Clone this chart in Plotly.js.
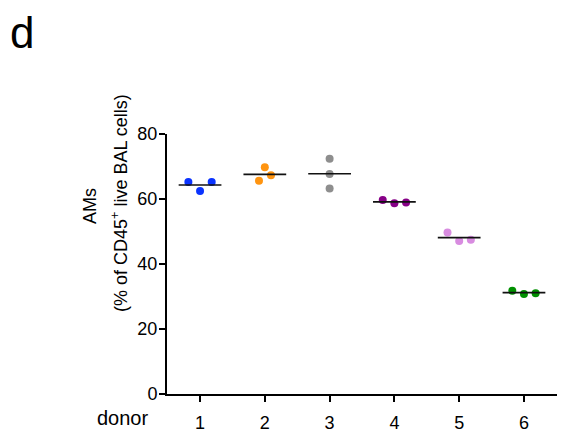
<!DOCTYPE html>
<html>
<head>
<meta charset="utf-8">
<script src="https://cdn.plot.ly/plotly-3.0.1.min.js"></script>
<style>html,body{margin:0;padding:0;background:#fff;}#chart{width:565px;height:434px;}</style>
</head>
<body>
<div id="chart"></div>
<script>
// Data
const donors = [1, 2, 3, 4, 5, 6];
const donorLabels = ['1', '2', '3', '4', '5', '6'];
const amValues = [
  [65.2, 62.5, 65.2],
  [65.6, 69.8, 67.3],
  [72.4, 67.7, 63.2],
  [59.7, 58.7, 58.9],
  [49.7, 47.1, 47.5],
  [31.8, 30.8, 31.0]
];
const yTicks = [0, 20, 40, 60, 80];

// Style
const colors = ['#0a33ff', '#ff9410', '#8e8e8e', '#870087', '#d88ce0', '#009000'];
const jitter = [
  [-0.18, 0, 0.18],
  [-0.09, 0, 0.095],
  [0, 0, 0],
  [-0.18, 0, 0.18],
  [-0.18, 0, 0.18],
  [-0.18, 0, 0.18]
];
const halfWidth = 0.33;

const traces = [];
donors.forEach((d, i) => {
  traces.push({
    type: 'scatter', mode: 'markers',
    x: amValues[i].map((v, j) => d + jitter[i][j]),
    y: amValues[i],
    marker: {color: colors[i], size: 8, line: {width: 0}},
    hoverinfo: 'x+y', showlegend: false, cliponaxis: false
  });
});
const mx = [], my = [];
donors.forEach((d, i) => {
  const m = amValues[i].reduce((a, b) => a + b, 0) / amValues[i].length;
  mx.push(d - halfWidth, d + halfWidth, null);
  my.push(m, m, null);
});
traces.push({type: 'scatter', mode: 'lines', x: mx, y: my,
  line: {color: '#111', width: 1.6}, hoverinfo: 'skip', showlegend: false});

const L = 167, R = 8, T = 134, B = 40;
const W = 565 - L - R, H = 434 - T - B;
const px = p => (p - L) / W;
const py = p => (434 - B - p) / H;
const font = {family: 'Liberation Sans, Arial, Helvetica, sans-serif', color: '#000'};

const layout = {
  width: 565, height: 434,
  margin: {l: L, r: R, t: T, b: B},
  paper_bgcolor: '#fff', plot_bgcolor: '#fff',
  font: font,
  xaxis: {
    range: [0.49, 6.51], tickvals: donors, ticktext: donorLabels,
    showgrid: false, zeroline: false, showline: true, linecolor: '#000', linewidth: 2,
    ticks: 'outside', ticklen: 6, tickwidth: 2, tickcolor: '#000', ticklabelstandoff: 5,
    tickfont: {size: 18, family: font.family, color: '#000'}, fixedrange: true
  },
  yaxis: {
    range: [0, 80], tickvals: yTicks,
    showgrid: false, zeroline: false, showline: true, linecolor: '#000', linewidth: 2,
    ticks: 'outside', ticklen: 6, tickwidth: 2, tickcolor: '#000', ticklabelstandoff: -2,
    tickfont: {size: 18, family: font.family, color: '#000'}, fixedrange: true
  },
  annotations: [
    {text: 'd', xref: 'paper', yref: 'paper', x: px(22), y: py(32), xanchor: 'center', yanchor: 'middle',
     showarrow: false, font: {size: 44, family: font.family, color: '#000'}},
    {text: 'AMs', xref: 'paper', yref: 'paper', x: px(90), y: py(206), xanchor: 'center', yanchor: 'middle',
     textangle: -90, showarrow: false, font: {size: 18, family: font.family, color: '#000'}},
    {text: '(% of CD45<sup>+</sup> live BAL cells)', xref: 'paper', yref: 'paper', x: px(119), y: py(203),
     xanchor: 'center', yanchor: 'middle', textangle: -90, showarrow: false,
     font: {size: 18, family: font.family, color: '#000'}},
    {text: 'donor', xref: 'paper', yref: 'paper', x: px(122), y: py(418), xanchor: 'center', yanchor: 'middle',
     showarrow: false, font: {size: 20, family: font.family, color: '#000'}}
  ]
};

Plotly.newPlot('chart', traces, layout, {displayModeBar: false, staticPlot: true});
</script>
</body>
</html>
